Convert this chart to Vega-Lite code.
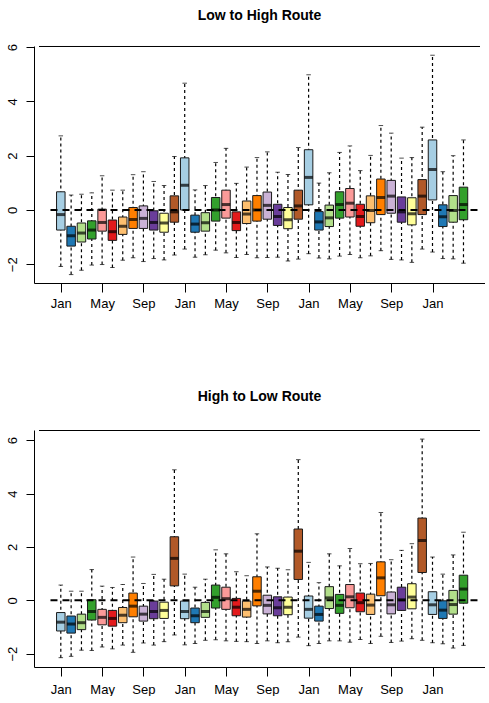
{
  "$schema": "https://vega.github.io/schema/vega-lite/v6.json",
  "padding": {"left": 5, "top": 9, "right": 0, "bottom": 0},
  "background": "white",
  "spacing": 80,
  "config": {
    "view": {"stroke": null},
    "font": "Liberation Sans",
    "title": {"font": "Liberation Sans", "fontSize": 14, "fontWeight": "bold", "color": "black", "anchor": "middle", "baseline": "alphabetic"},
    "axis": {"labelFont": "Liberation Sans", "labelFontSize": 13, "labelColor": "black", "domainColor": "black", "tickColor": "black", "grid": false, "title": null}
  },
  "datasets": {
    "low_high": [
      {"idx": 1, "month": "Jan", "lo": -2.08, "q1": -0.74, "med": -0.17, "q3": 0.67, "hi": 2.73},
      {"idx": 2, "month": "Feb", "lo": -2.38, "q1": -1.33, "med": -0.95, "q3": -0.60, "hi": 0.55},
      {"idx": 3, "month": "Mar", "lo": -2.22, "q1": -1.18, "med": -0.85, "q3": -0.48, "hi": 0.58},
      {"idx": 4, "month": "Apr", "lo": -2.03, "q1": -1.07, "med": -0.74, "q3": -0.40, "hi": 0.63},
      {"idx": 5, "month": "May", "lo": -2.01, "q1": -0.78, "med": -0.46, "q3": 0.03, "hi": 1.26},
      {"idx": 6, "month": "Jun", "lo": -2.12, "q1": -1.12, "med": -0.80, "q3": -0.37, "hi": 0.73},
      {"idx": 7, "month": "Jul", "lo": -1.85, "q1": -0.90, "med": -0.60, "q3": -0.26, "hi": 0.73},
      {"idx": 8, "month": "Aug", "lo": -1.76, "q1": -0.68, "med": -0.35, "q3": 0.09, "hi": 1.30},
      {"idx": 9, "month": "Sep", "lo": -1.90, "q1": -0.68, "med": -0.31, "q3": 0.15, "hi": 1.41},
      {"idx": 10, "month": "Oct", "lo": -1.79, "q1": -0.74, "med": -0.46, "q3": -0.03, "hi": 1.05},
      {"idx": 11, "month": "Nov", "lo": -1.84, "q1": -0.82, "med": -0.48, "q3": -0.12, "hi": 0.90},
      {"idx": 12, "month": "Dec", "lo": -1.66, "q1": -0.45, "med": -0.07, "q3": 0.52, "hi": 1.97},
      {"idx": 13, "month": "Jan", "lo": -1.44, "q1": 0.00, "med": 0.91, "q3": 1.92, "hi": 4.67},
      {"idx": 14, "month": "Feb", "lo": -1.74, "q1": -0.82, "med": -0.52, "q3": -0.19, "hi": 0.74},
      {"idx": 15, "month": "Mar", "lo": -1.65, "q1": -0.78, "med": -0.47, "q3": -0.10, "hi": 0.90},
      {"idx": 16, "month": "Apr", "lo": -1.48, "q1": -0.41, "med": 0.00, "q3": 0.46, "hi": 1.75},
      {"idx": 17, "month": "May", "lo": -1.58, "q1": -0.30, "med": 0.20, "q3": 0.73, "hi": 2.27},
      {"idx": 18, "month": "Jun", "lo": -1.75, "q1": -0.76, "med": -0.46, "q3": -0.07, "hi": 0.98},
      {"idx": 19, "month": "Jul", "lo": -1.64, "q1": -0.50, "med": -0.15, "q3": 0.33, "hi": 1.58},
      {"idx": 20, "month": "Aug", "lo": -1.76, "q1": -0.41, "med": 0.00, "q3": 0.53, "hi": 1.93},
      {"idx": 21, "month": "Sep", "lo": -1.75, "q1": -0.34, "med": 0.17, "q3": 0.66, "hi": 2.14},
      {"idx": 22, "month": "Oct", "lo": -1.74, "q1": -0.57, "med": -0.24, "q3": 0.21, "hi": 1.39},
      {"idx": 23, "month": "Nov", "lo": -1.88, "q1": -0.69, "med": -0.36, "q3": 0.09, "hi": 1.31},
      {"idx": 24, "month": "Dec", "lo": -1.81, "q1": -0.34, "med": 0.15, "q3": 0.73, "hi": 2.30},
      {"idx": 25, "month": "Jan", "lo": -1.61, "q1": 0.19, "med": 1.20, "q3": 2.22, "hi": 4.98},
      {"idx": 26, "month": "Feb", "lo": -1.77, "q1": -0.74, "med": -0.44, "q3": -0.06, "hi": 0.99},
      {"idx": 27, "month": "Mar", "lo": -1.80, "q1": -0.61, "med": -0.29, "q3": 0.18, "hi": 1.37},
      {"idx": 28, "month": "Apr", "lo": -1.70, "q1": -0.30, "med": 0.20, "q3": 0.67, "hi": 2.12},
      {"idx": 29, "month": "May", "lo": -1.64, "q1": -0.26, "med": 0.25, "q3": 0.79, "hi": 2.36},
      {"idx": 30, "month": "Jun", "lo": -1.76, "q1": -0.60, "med": -0.24, "q3": 0.21, "hi": 1.45},
      {"idx": 31, "month": "Jul", "lo": -1.69, "q1": -0.47, "med": -0.02, "q3": 0.52, "hi": 2.01},
      {"idx": 32, "month": "Aug", "lo": -1.50, "q1": -0.17, "med": 0.46, "q3": 1.14, "hi": 3.11},
      {"idx": 33, "month": "Sep", "lo": -1.82, "q1": -0.12, "med": 0.51, "q3": 1.09, "hi": 2.83},
      {"idx": 34, "month": "Oct", "lo": -1.84, "q1": -0.45, "med": -0.07, "q3": 0.48, "hi": 1.91},
      {"idx": 35, "month": "Nov", "lo": -1.93, "q1": -0.55, "med": -0.14, "q3": 0.45, "hi": 1.93},
      {"idx": 36, "month": "Dec", "lo": -1.44, "q1": -0.17, "med": 0.51, "q3": 1.12, "hi": 3.05},
      {"idx": 37, "month": "Jan", "lo": -1.55, "q1": 0.37, "med": 1.49, "q3": 2.58, "hi": 5.70},
      {"idx": 38, "month": "Feb", "lo": -1.79, "q1": -0.61, "med": -0.25, "q3": 0.19, "hi": 1.41},
      {"idx": 39, "month": "Mar", "lo": -1.80, "q1": -0.45, "med": -0.02, "q3": 0.53, "hi": 2.00},
      {"idx": 40, "month": "Apr", "lo": -1.96, "q1": -0.36, "med": 0.20, "q3": 0.84, "hi": 2.58}
    ],
    "high_low": [
      {"idx": 1, "month": "Jan", "lo": -2.15, "q1": -1.15, "med": -0.82, "q3": -0.46, "hi": 0.57},
      {"idx": 2, "month": "Feb", "lo": -2.10, "q1": -1.23, "med": -0.89, "q3": -0.59, "hi": 0.34},
      {"idx": 3, "month": "Mar", "lo": -1.87, "q1": -1.10, "med": -0.84, "q3": -0.52, "hi": 0.34},
      {"idx": 4, "month": "Apr", "lo": -1.88, "q1": -0.74, "med": -0.42, "q3": 0.02, "hi": 1.15},
      {"idx": 5, "month": "May", "lo": -1.75, "q1": -0.92, "med": -0.64, "q3": -0.34, "hi": 0.53},
      {"idx": 6, "month": "Jun", "lo": -1.82, "q1": -0.97, "med": -0.68, "q3": -0.38, "hi": 0.48},
      {"idx": 7, "month": "Jul", "lo": -1.68, "q1": -0.84, "med": -0.56, "q3": -0.27, "hi": 0.59},
      {"idx": 8, "month": "Aug", "lo": -1.95, "q1": -0.62, "med": -0.22, "q3": 0.27, "hi": 1.62},
      {"idx": 9, "month": "Sep", "lo": -1.60, "q1": -0.78, "med": -0.52, "q3": -0.22, "hi": 0.63},
      {"idx": 10, "month": "Oct", "lo": -1.68, "q1": -0.69, "med": -0.42, "q3": -0.03, "hi": 0.97},
      {"idx": 11, "month": "Nov", "lo": -1.55, "q1": -0.68, "med": -0.38, "q3": -0.07, "hi": 0.79},
      {"idx": 12, "month": "Dec", "lo": -1.30, "q1": 0.54, "med": 1.57, "q3": 2.38, "hi": 4.89},
      {"idx": 13, "month": "Jan", "lo": -1.67, "q1": -0.69, "med": -0.42, "q3": -0.03, "hi": 0.98},
      {"idx": 14, "month": "Feb", "lo": -1.62, "q1": -0.84, "med": -0.58, "q3": -0.29, "hi": 0.49},
      {"idx": 15, "month": "Mar", "lo": -1.50, "q1": -0.64, "med": -0.42, "q3": -0.08, "hi": 0.79},
      {"idx": 16, "month": "Apr", "lo": -1.48, "q1": -0.29, "med": 0.11, "q3": 0.57, "hi": 1.89},
      {"idx": 17, "month": "May", "lo": -1.52, "q1": -0.34, "med": 0.06, "q3": 0.49, "hi": 1.74},
      {"idx": 18, "month": "Jun", "lo": -1.54, "q1": -0.58, "med": -0.26, "q3": 0.07, "hi": 1.07},
      {"idx": 19, "month": "Jul", "lo": -1.55, "q1": -0.63, "med": -0.34, "q3": -0.03, "hi": 0.92},
      {"idx": 20, "month": "Aug", "lo": -1.62, "q1": -0.21, "med": 0.34, "q3": 0.88, "hi": 2.49},
      {"idx": 21, "month": "Sep", "lo": -1.52, "q1": -0.51, "med": -0.19, "q3": 0.19, "hi": 1.25},
      {"idx": 22, "month": "Oct", "lo": -1.59, "q1": -0.58, "med": -0.28, "q3": 0.13, "hi": 1.20},
      {"idx": 23, "month": "Nov", "lo": -1.55, "q1": -0.54, "med": -0.26, "q3": 0.12, "hi": 1.14},
      {"idx": 24, "month": "Dec", "lo": -1.38, "q1": 0.78, "med": 1.84, "q3": 2.67, "hi": 5.27},
      {"idx": 25, "month": "Jan", "lo": -1.70, "q1": -0.67, "med": -0.34, "q3": 0.16, "hi": 1.42},
      {"idx": 26, "month": "Feb", "lo": -1.62, "q1": -0.78, "med": -0.53, "q3": -0.22, "hi": 0.66},
      {"idx": 27, "month": "Mar", "lo": -1.52, "q1": -0.31, "med": 0.09, "q3": 0.51, "hi": 1.74},
      {"idx": 28, "month": "Apr", "lo": -1.52, "q1": -0.49, "med": -0.19, "q3": 0.22, "hi": 1.29},
      {"idx": 29, "month": "May", "lo": -1.57, "q1": -0.28, "med": 0.13, "q3": 0.59, "hi": 1.94},
      {"idx": 30, "month": "Jun", "lo": -1.47, "q1": -0.43, "med": -0.09, "q3": 0.27, "hi": 1.37},
      {"idx": 31, "month": "Jul", "lo": -1.62, "q1": -0.53, "med": -0.18, "q3": 0.23, "hi": 1.38},
      {"idx": 32, "month": "Aug", "lo": -1.35, "q1": 0.17, "med": 0.84, "q3": 1.44, "hi": 3.29},
      {"idx": 33, "month": "Sep", "lo": -1.58, "q1": -0.51, "med": -0.17, "q3": 0.31, "hi": 1.52},
      {"idx": 34, "month": "Oct", "lo": -1.53, "q1": -0.38, "med": 0.02, "q3": 0.49, "hi": 1.87},
      {"idx": 35, "month": "Nov", "lo": -1.44, "q1": -0.32, "med": 0.12, "q3": 0.62, "hi": 2.12},
      {"idx": 36, "month": "Dec", "lo": -1.50, "q1": 1.04, "med": 2.24, "q3": 3.08, "hi": 6.04},
      {"idx": 37, "month": "Jan", "lo": -1.59, "q1": -0.53, "med": -0.17, "q3": 0.32, "hi": 1.62},
      {"idx": 38, "month": "Feb", "lo": -1.63, "q1": -0.68, "med": -0.37, "q3": -0.02, "hi": 0.98},
      {"idx": 39, "month": "Mar", "lo": -1.79, "q1": -0.52, "med": -0.16, "q3": 0.37, "hi": 1.70},
      {"idx": 40, "month": "Apr", "lo": -1.69, "q1": -0.11, "med": 0.42, "q3": 0.94, "hi": 2.55}
    ]
  },
  "vconcat": [
    {
      "title": {"text": "Low to High Route", "offset": 20},
      "width": 451,
      "height": 237,
      "layer": [
        {
          "data": {"name": "low_high"},
          "mark": {"type": "rule", "color": "black", "strokeWidth": 1.2, "strokeDash": [3, 3]},
          "encoding": {
            "x": {
              "field": "idx", "type": "quantitative",
              "scale": {"domain": [-1.112, 41.6], "nice": false, "zero": false},
              "axis": {
                "values": [1,2,3,4,5,6,7,8,9,10,11,12,13,14,15,16,17,18,19,20,21,22,23,24,25,26,27,28,29,30,31,32,33,34,35,36,37,38,39,40],
                "labelExpr": "datum.value % 4 == 1 ? ['Jan', 'May', 'Sep'][((datum.value - 1) / 4) % 3] : ''",
                "tickSize": 9, "labelPadding": 5, "labelAngle": 0, "labelOverlap": false, "labelBound": false, "labelFlush": false
              }
            },
            "y": {"field": "lo", "type": "quantitative",
              "scale": {"domain": [-2.69, 6.04], "nice": false, "zero": false},
              "axis": {"values": [-2, 0, 2, 4, 6], "labelAngle": 270, "labelAlign": "center", "labelBaseline": "alphabetic", "tickSize": 8, "labelPadding": 10}},
            "y2": {"field": "hi"}
          }
        },
        {
          "data": {"name": "low_high"},
          "mark": {"type": "tick", "orient": "horizontal", "color": "black", "size": 4.5, "thickness": 1},
          "encoding": {"x": {"field": "idx", "type": "quantitative"}, "y": {"field": "lo", "type": "quantitative"}}
        },
        {
          "data": {"name": "low_high"},
          "mark": {"type": "tick", "orient": "horizontal", "color": "black", "size": 4.5, "thickness": 1},
          "encoding": {"x": {"field": "idx", "type": "quantitative"}, "y": {"field": "hi", "type": "quantitative"}}
        },
        {
          "data": {"name": "low_high"},
          "mark": {"type": "bar", "size": 8.5, "stroke": "#1a1a1a", "strokeWidth": 1},
          "encoding": {
            "x": {"field": "idx", "type": "quantitative"},
            "y": {"field": "q1", "type": "quantitative"},
            "y2": {"field": "q3"},
            "color": {
              "field": "month", "type": "nominal", "legend": null,
              "scale": {
                "domain": ["Jan", "Feb", "Mar", "Apr", "May", "Jun", "Jul", "Aug", "Sep", "Oct", "Nov", "Dec"],
                "range": ["#A6CEE3", "#1F78B4", "#B2DF8A", "#33A02C", "#FB9A99", "#E31A1C", "#FDBF6F", "#FF7F00", "#CAB2D6", "#6A3D9A", "#FFFF99", "#B15928"]
              }
            }
          }
        },
        {
          "data": {"name": "low_high"},
          "mark": {"type": "tick", "orient": "horizontal", "color": "black", "size": 8.5, "thickness": 3},
          "encoding": {"x": {"field": "idx", "type": "quantitative"}, "y": {"field": "med", "type": "quantitative"}}
        },
        {
          "data": {"values": [{"line": "zero"}]},
          "mark": {"type": "rule", "color": "black", "strokeWidth": 2, "strokeDash": [7, 5]},
          "encoding": {"x": {"datum": 0}, "x2": {"datum": 41.6}, "y": {"datum": 0}}
        },
        {
          "data": {"values": [{"line": "frame"}]},
          "mark": {"type": "rule", "color": "black", "strokeWidth": 1},
          "encoding": {"x": {"datum": -1.112}, "x2": {"datum": 41.6}, "y": {"datum": 6.022}}
        }
      ]
    },
    {
      "title": {"text": "High to Low Route", "offset": 26},
      "width": 451,
      "height": 237,
      "layer": [
        {
          "data": {"name": "high_low"},
          "mark": {"type": "rule", "color": "black", "strokeWidth": 1.2, "strokeDash": [3, 3]},
          "encoding": {
            "x": {
              "field": "idx", "type": "quantitative",
              "scale": {"domain": [-1.112, 41.6], "nice": false, "zero": false},
              "axis": {
                "values": [1,2,3,4,5,6,7,8,9,10,11,12,13,14,15,16,17,18,19,20,21,22,23,24,25,26,27,28,29,30,31,32,33,34,35,36,37,38,39,40],
                "labelExpr": "datum.value % 4 == 1 ? ['Jan', 'May', 'Sep'][((datum.value - 1) / 4) % 3] : ''",
                "tickSize": 9, "labelPadding": 7, "labelAngle": 0, "labelOverlap": false, "labelBound": false, "labelFlush": false
              }
            },
            "y": {"field": "lo", "type": "quantitative",
              "scale": {"domain": [-2.50, 6.38], "nice": false, "zero": false},
              "axis": {"values": [-2, 0, 2, 4, 6], "labelAngle": 270, "labelAlign": "center", "labelBaseline": "alphabetic", "tickSize": 8, "labelPadding": 10}},
            "y2": {"field": "hi"}
          }
        },
        {
          "data": {"name": "high_low"},
          "mark": {"type": "tick", "orient": "horizontal", "color": "black", "size": 4.5, "thickness": 1},
          "encoding": {"x": {"field": "idx", "type": "quantitative"}, "y": {"field": "lo", "type": "quantitative"}}
        },
        {
          "data": {"name": "high_low"},
          "mark": {"type": "tick", "orient": "horizontal", "color": "black", "size": 4.5, "thickness": 1},
          "encoding": {"x": {"field": "idx", "type": "quantitative"}, "y": {"field": "hi", "type": "quantitative"}}
        },
        {
          "data": {"name": "high_low"},
          "mark": {"type": "bar", "size": 8.5, "stroke": "#1a1a1a", "strokeWidth": 1},
          "encoding": {
            "x": {"field": "idx", "type": "quantitative"},
            "y": {"field": "q1", "type": "quantitative"},
            "y2": {"field": "q3"},
            "color": {
              "field": "month", "type": "nominal", "legend": null,
              "scale": {
                "domain": ["Jan", "Feb", "Mar", "Apr", "May", "Jun", "Jul", "Aug", "Sep", "Oct", "Nov", "Dec"],
                "range": ["#A6CEE3", "#1F78B4", "#B2DF8A", "#33A02C", "#FB9A99", "#E31A1C", "#FDBF6F", "#FF7F00", "#CAB2D6", "#6A3D9A", "#FFFF99", "#B15928"]
              }
            }
          }
        },
        {
          "data": {"name": "high_low"},
          "mark": {"type": "tick", "orient": "horizontal", "color": "black", "size": 8.5, "thickness": 3},
          "encoding": {"x": {"field": "idx", "type": "quantitative"}, "y": {"field": "med", "type": "quantitative"}}
        },
        {
          "data": {"values": [{"line": "zero"}]},
          "mark": {"type": "rule", "color": "black", "strokeWidth": 2, "strokeDash": [7, 5]},
          "encoding": {"x": {"datum": 0}, "x2": {"datum": 41.6}, "y": {"datum": 0}}
        },
        {
          "data": {"values": [{"line": "frame"}]},
          "mark": {"type": "rule", "color": "black", "strokeWidth": 1},
          "encoding": {"x": {"datum": -1.112}, "x2": {"datum": 41.6}, "y": {"datum": 6.361}}
        }
      ]
    }
  ]
}
